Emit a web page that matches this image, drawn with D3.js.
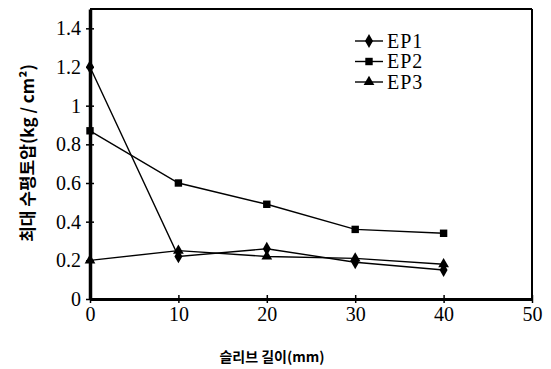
<!DOCTYPE html>
<html>
<head>
<meta charset="utf-8">
<script src="https://cdn.jsdelivr.net/npm/d3@7/dist/d3.min.js"></script>
<style>
  html, body { margin: 0; padding: 0; background: #fff; }
  svg { display: block; }
</style>
</head>
<body>
<svg id="chart" width="551" height="369"></svg>
<script>
// Sleeve length (mm)
const sleeveLength = [0, 10, 20, 30, 40];
// Maximum horizontal earth pressure (kg/cm²) per gauge
const ep1 = [1.2, 0.22, 0.26, 0.19, 0.15];
const ep2 = [0.87, 0.6, 0.49, 0.36, 0.34];
const ep3 = [0.2, 0.25, 0.22, 0.21, 0.18];
const seriesNames = ["EP1", "EP2", "EP3"];
const xTicks = [0, 10, 20, 30, 40, 50];
const yTicks = [0, 0.2, 0.4, 0.6, 0.8, 1, 1.2, 1.4];

const SERIF = "'Liberation Serif', 'Times New Roman', serif";
const svg = d3.select("#chart");
const plotLeft = 90, plotRight = 532, plotTop = 9, plotBottom = 299;

const x = d3.scaleLinear().domain([0, 50]).range([plotLeft, plotRight]);
const y = d3.scaleLinear().domain([0, 1.5]).range([plotBottom, plotTop]);

// frame
svg.append("line").attr("x1", plotLeft).attr("x2", plotRight).attr("y1", plotTop).attr("y2", plotTop)
  .attr("stroke", "#000").attr("stroke-width", 2);
svg.append("line").attr("x1", plotRight).attr("x2", plotRight).attr("y1", plotTop).attr("y2", plotBottom)
  .attr("stroke", "#000").attr("stroke-width", 2);

function styleAxis(g) {
  g.attr("font-family", null).attr("font-size", null);
  g.selectAll(".tick line").attr("stroke", "#000").attr("stroke-width", 1.5);
  g.selectAll(".tick text").style("font-family", SERIF).style("font-size", "20px").attr("fill", "#000");
}

const xAxis = svg.append("g").attr("transform", `translate(0,${plotBottom})`)
  .call(d3.axisBottom(x).tickValues(xTicks).tickFormat(d3.format("d"))
    .tickSizeInner(4).tickSizeOuter(0).tickPadding(4));
xAxis.select(".domain").attr("stroke", "#000").attr("stroke-width", 3);
xAxis.selectAll(".tick line").attr("y1", -4).attr("y2", 4);
styleAxis(xAxis);

const yAxis = svg.append("g").attr("transform", `translate(${plotLeft},0)`)
  .call(d3.axisLeft(y).tickValues(yTicks).tickFormat(d => String(d))
    .tickSizeInner(4).tickSizeOuter(0).tickPadding(5));
yAxis.select(".domain").attr("stroke", "#000").attr("stroke-width", 3.5);
yAxis.selectAll(".tick line").attr("x1", -4).attr("x2", 4);
styleAxis(yAxis);

// series
const series = [ep1, ep2, ep3].map((vals, i) => ({
  name: seriesNames[i],
  points: vals.map((v, j) => ({ x: sleeveLength[j], y: v }))
}));
const shapes = [d3.symbolDiamond, d3.symbolSquare, d3.symbolTriangle];
const sizes = [55, 55, 50];

const line = d3.line().x(d => x(d.x)).y(d => y(d.y));

series.forEach((s, i) => {
  svg.append("path").datum(s.points).attr("d", line)
    .attr("fill", "none").attr("stroke", "#000").attr("stroke-width", 1.4);
  svg.selectAll(null).data(s.points).enter().append("path")
    .attr("transform", d => `translate(${x(d.x)},${y(d.y)})`)
    .attr("d", d3.symbol().type(shapes[i]).size(sizes[i]))
    .attr("fill", "#000");
});

// legend
const legend = svg.append("g").attr("transform", "translate(355,41)");
seriesNames.forEach((name, i) => {
  const g = legend.append("g").attr("transform", `translate(0,${i * 20.5})`);
  g.append("line").attr("x1", 0).attr("x2", 28).attr("stroke", "#000").attr("stroke-width", 1.4);
  g.append("path").attr("transform", "translate(14,0)")
    .attr("d", d3.symbol().type(shapes[i]).size(sizes[i])).attr("fill", "#000");
  g.append("text").attr("x", 32).attr("y", 6.5)
    .style("font-family", SERIF).style("letter-spacing", "1px")
    .style("font-size", "20px").text(name);
});

// axis titles
svg.append("text")
  .attr("x", 272).attr("y", 362).attr("text-anchor", "middle")
  .style("font-family", "'Noto Sans CJK KR', sans-serif").attr("font-weight", "bold")
  .style("font-size", "14px").text("슬리브 길이(mm)");

svg.append("text")
  .attr("transform", "translate(34,153) rotate(-90)")
  .attr("text-anchor", "middle")
  .style("font-family", "'Noto Sans CJK KR', sans-serif").attr("font-weight", "bold")
  .style("font-size", "17px").text("최대 수평토압(kg / cm²)");
</script>
</body>
</html>
